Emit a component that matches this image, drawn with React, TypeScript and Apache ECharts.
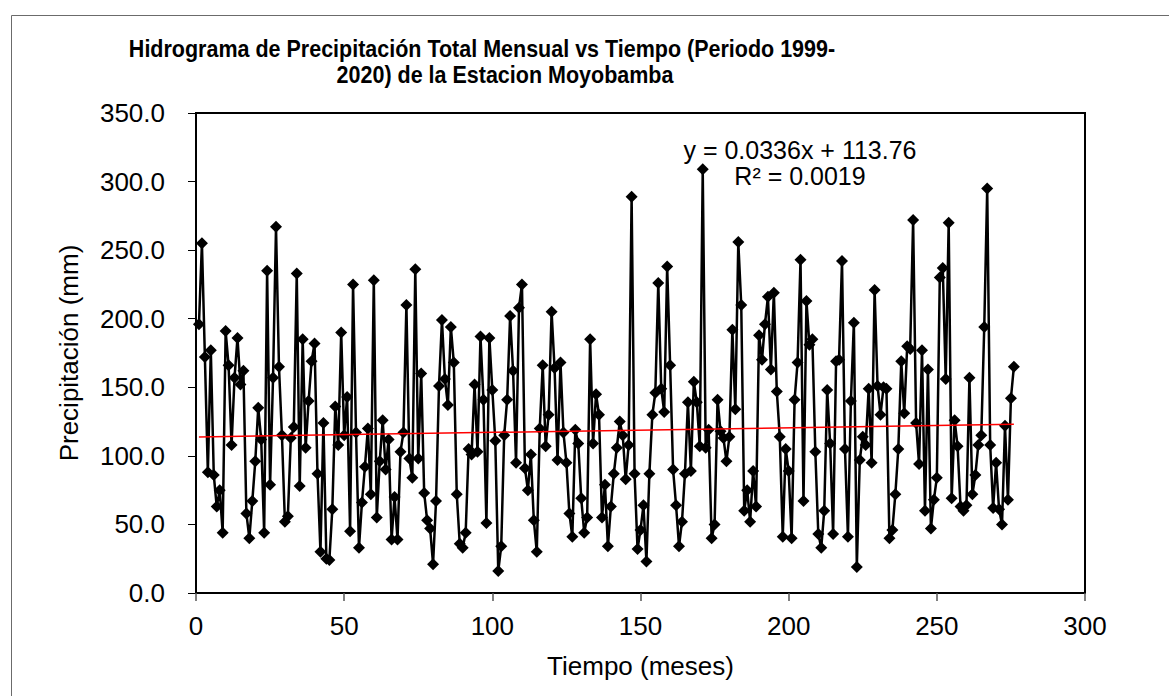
import React, { useEffect, useRef } from "react";
import * as echarts from "echarts";

const TITLE_LINE_1 = "Hidrograma de Precipitación Total Mensual vs Tiempo (Periodo 1999-";
const TITLE_LINE_2 = "2020) de la Estacion Moyobamba";
const X_NAME = "Tiempo (meses)";
const Y_NAME = "Precipitación (mm)";
const EQ_TEXT = "y = 0.0336x + 113.76";
const R2_TEXT = "R² = 0.0019";
const TREND_SLOPE = 0.0336;
const TREND_INTERCEPT = 113.76;

// Monthly precipitation (mm), months 1..276
const precip1: number[] = [196, 255, 172, 88, 177, 86, 63, 75, 44, 191, 166, 108, 157, 186, 152, 162, 58, 40, 67, 96, 135, 112, 44, 235, 79, 157, 267, 165, 115, 52, 56, 113, 121, 233, 78];
const precip2: number[] = [185, 106, 140, 169, 182, 87, 30, 124, 25, 24, 61, 136, 108, 190, 115, 143, 45, 225, 117, 33, 66, 92, 120, 72, 228, 55, 96, 126, 90, 112, 39, 70, 39, 103, 117];
const precip3: number[] = [210, 98, 84, 236, 98, 160, 73, 53, 47, 21, 67, 151, 199, 156, 137, 194, 168, 72, 36, 33, 44, 105, 101, 152, 103, 187, 141, 51, 186, 148, 111, 16];
const precip4: number[] = [34, 115, 141, 202, 162, 95, 208, 225, 91, 75, 101, 53, 30, 120, 166, 107, 130, 205, 164, 97, 168, 117, 95, 58, 41, 119, 109, 69, 44, 55, 185, 109, 145, 130, 55, 79, 34];
const precip5: number[] = [63, 87, 106, 125, 115, 83, 108, 289, 87, 32, 46, 64, 23, 87, 130, 146, 226, 149, 132, 238, 166, 90, 64, 34, 52, 87, 139, 89, 154, 139, 107, 309, 106, 119, 40, 50, 141];
const precip6: number[] = [118, 113, 96, 114, 192, 134, 256, 210, 60, 75, 52, 89, 63, 188, 170, 196, 216, 163, 219, 147, 114, 41, 105, 89, 40, 141, 168, 243, 67, 213, 181, 185, 103, 43, 33, 60];
const precip7: number[] = [148, 109, 43, 169, 170, 242, 105, 41, 140, 197, 19, 97, 114, 108, 149, 95, 221, 151, 130, 150, 149, 40, 46, 72, 105, 169, 131, 180, 178, 272, 124, 94, 177, 60];
const precip8: number[] = [163, 47, 68, 84, 230, 237, 156, 270, 69, 126, 107, 63, 60, 64, 157, 72, 86, 108, 115, 194, 295, 108, 62, 95, 61, 50, 122, 68, 142, 165];

const precipitation: number[] = [
  ...precip1, ...precip2, ...precip3, ...precip4,
  ...precip5, ...precip6, ...precip7, ...precip8,
];

const FONT = "'Liberation Sans', Arial, sans-serif";

export default function App() {
  const ref = useRef<HTMLDivElement>(null);

  useEffect(() => {
    if (!ref.current) return;
    const chart = echarts.init(ref.current, null, { renderer: "svg" });
    const seriesData = precipitation.map((v, i) => [i + 1, v]);
    const n = precipitation.length;
    const trendData = [
      [1, TREND_INTERCEPT + TREND_SLOPE * 1],
      [n, TREND_INTERCEPT + TREND_SLOPE * n],
    ];

    chart.setOption({
      animation: false,
      backgroundColor: "#ffffff",
      grid: {
        left: 196,
        top: 113,
        right: 84,
        bottom: 103,
        show: true,
        borderColor: "#000",
        borderWidth: 2,
        backgroundColor: "transparent",
      },
      xAxis: {
        type: "value",
        min: 0,
        max: 300,
        interval: 50,
        name: X_NAME,
        nameLocation: "middle",
        nameGap: 60,
        nameTextStyle: { fontSize: 26, color: "#000", fontFamily: FONT },
        axisLine: { show: true, onZero: false, lineStyle: { color: "#000", width: 2 } },
        axisTick: { show: true, length: 8, lineStyle: { color: "#555", width: 1.5 } },
        axisLabel: { fontSize: 26, color: "#000", fontFamily: FONT, margin: 20 },
        splitLine: { show: false },
      },
      yAxis: {
        type: "value",
        min: 0,
        max: 350,
        interval: 50,
        name: Y_NAME,
        nameLocation: "middle",
        nameGap: 114,
        nameTextStyle: { fontSize: 26, color: "#000", fontFamily: FONT },
        axisLine: { show: true, lineStyle: { color: "#000", width: 2 } },
        axisTick: { show: true, length: 8, lineStyle: { color: "#000", width: 1 } },
        axisLabel: {
          fontSize: 26,
          color: "#000",
          fontFamily: FONT,
          margin: 31,
          formatter: (v: number) => v.toFixed(1),
        },
        splitLine: { show: false },
      },
      graphic: [
        {
          type: "rect",
          shape: { x: 11.5, y: 15.5, width: 1200, height: 700 },
          style: { fill: "none", stroke: "#6b6b6b", lineWidth: 1 },
          silent: true,
          z: -1,
        },
        {
          type: "text",
          x: 482,
          y: 49,
          scaleY: 1.1,
          style: {
            text: TITLE_LINE_1,
            fontSize: 21.5,
            fontWeight: "bold",
            fontFamily: FONT,
            fill: "#000",
            textAlign: "center",
            textVerticalAlign: "middle",
          },
        },
        {
          type: "text",
          x: 505,
          y: 75,
          scaleY: 1.1,
          style: {
            text: TITLE_LINE_2,
            fontSize: 21.5,
            fontWeight: "bold",
            fontFamily: FONT,
            fill: "#000",
            textAlign: "center",
            textVerticalAlign: "middle",
          },
        },
        {
          type: "text",
          x: 800,
          y: 150,
          style: {
            text: EQ_TEXT,
            fontSize: 25,
            fontFamily: FONT,
            fill: "#000",
            textAlign: "center",
            textVerticalAlign: "middle",
          },
          z: 10,
        },
        {
          type: "text",
          x: 800,
          y: 176,
          style: {
            text: R2_TEXT,
            fontSize: 25,
            fontFamily: FONT,
            fill: "#000",
            textAlign: "center",
            textVerticalAlign: "middle",
          },
          z: 10,
        },
      ],
      series: [
        {
          type: "line",
          data: seriesData,
          symbol: "diamond",
          symbolSize: 12,
          showSymbol: true,
          showAllSymbol: true,
          itemStyle: { color: "#000" },
          lineStyle: { color: "#000", width: 2.5 },
          z: 2,
        },
        {
          type: "line",
          data: trendData,
          symbol: "none",
          lineStyle: { color: "#ff0000", width: 1.5 },
          z: 3,
        },
      ],
    });

    return () => chart.dispose();
  }, []);

  return (
    <div
      ref={ref}
      style={{ position: "fixed", left: 0, top: 0, width: 1169, height: 696, background: "#fff" }}
    />
  );
}
